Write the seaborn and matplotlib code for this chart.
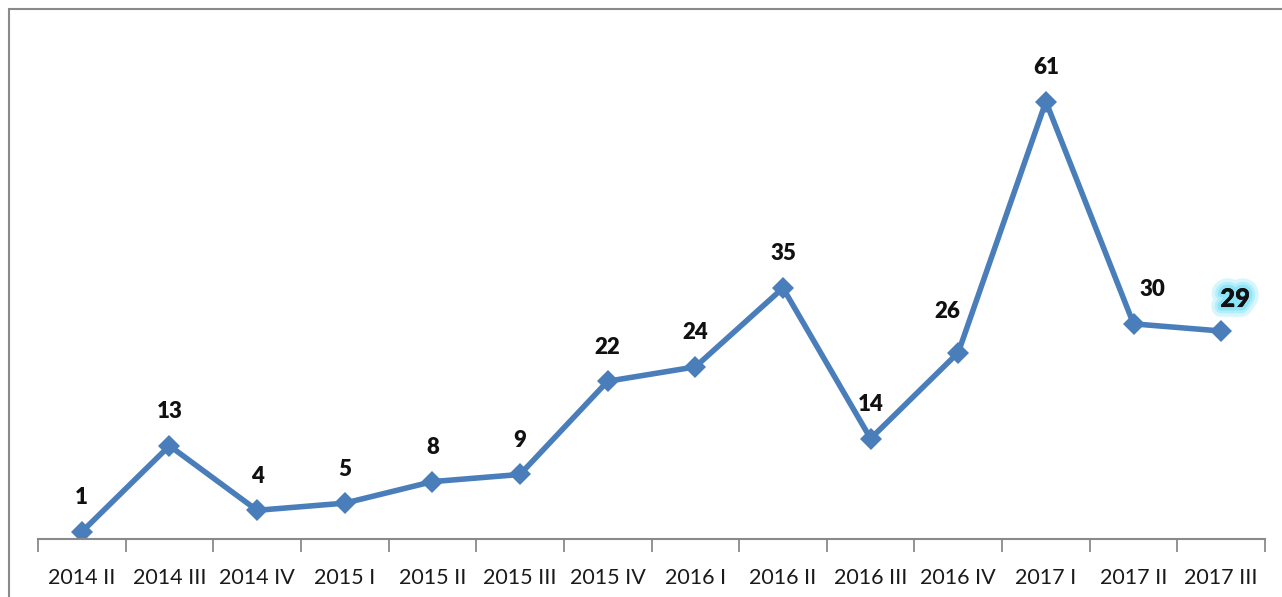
import matplotlib
matplotlib.use("Agg")
import matplotlib.pyplot as plt
import matplotlib.patheffects as pe
from matplotlib.patches import Rectangle
import seaborn as sns
import pandas as pd

quarters = ["2014 II", "2014 III", "2014 IV", "2015 I", "2015 II", "2015 III", "2015 IV",
            "2016 I", "2016 II", "2016 III", "2016 IV", "2017 I", "2017 II", "2017 III"]
counts = [1, 13, 4, 5, 8, 9, 22, 24, 35, 14, 26, 61, 30, 29]

df = pd.DataFrame({"quarter": quarters, "count": counts})

sns.set_theme(style="white")
plt.rcParams["font.family"] = ["Lato", "DejaVu Sans"]

fig = plt.figure(figsize=(12.82, 5.97), dpi=100)
ax = fig.add_axes([38 / 1282, 58 / 597, 1227 / 1282, 502 / 597])

# outer chart frame (cropped)
fig.patches.append(Rectangle((9 / 1282, -0.1), 1.2, (597 - 9) / 597 + 0.1,
                             transform=fig.transFigure, fill=False,
                             edgecolor="#8a8a8a", linewidth=1.5))

sns.lineplot(data=df, x="quarter", y="count", ax=ax, color="#4a7ebb",
             linewidth=4, marker="D", markersize=11, markeredgewidth=0, sort=False)

ax.set_xlim(-0.5, len(quarters) - 0.5)
ax.set_ylim(0, 70)
ax.set_xlabel("")
ax.set_ylabel("")
ax.set_yticks([])
for s in ["top", "right", "left"]:
    ax.spines[s].set_visible(False)
ax.spines["bottom"].set_color("#8a8a8a")
ax.spines["bottom"].set_linewidth(1.5)

ax.set_xticks(range(len(quarters)))
ax.set_xticklabels(quarters, fontsize=15.5, color="#1a1a1a")
ax.set_xticks([i - 0.5 for i in range(len(quarters) + 1)], minor=True)
ax.tick_params(axis="x", which="major", length=0, pad=21)
ax.tick_params(axis="x", which="minor", length=9, width=1.3, color="#8a8a8a",
               direction="out", bottom=True)

shift = {10: (-11, 41), 12: (19, 34), 13: (14, 32)}
for i, v in enumerate(counts):
    dx, dy = shift.get(i, (0, 34))
    t = ax.annotate(str(v), (i, v), xytext=(dx, dy), textcoords="offset pixels",
                    ha="center", va="center", fontsize=16, fontweight="heavy",
                    color="#111111")
    if i == len(counts) - 1:
        t.set_fontsize(18.5)
        t.set_path_effects([pe.withStroke(linewidth=14, foreground="#d6f6fd"),
                            pe.withStroke(linewidth=9, foreground="#b4eefb"),
                            pe.withStroke(linewidth=5, foreground="#8fe4f7"),
                            pe.Normal()])

fig.savefig("out.png", dpi=100)
